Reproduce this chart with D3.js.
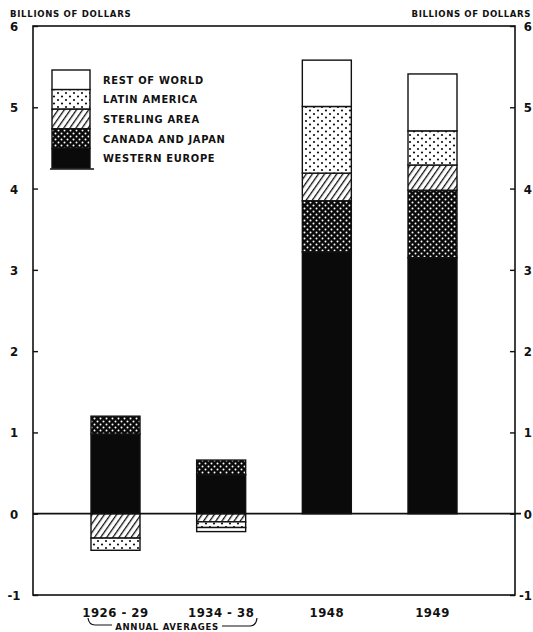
<!DOCTYPE html>
<html>
<head>
<meta charset="utf-8">
<script src="https://cdn.jsdelivr.net/npm/d3@7"></script>
<style>
  body { margin: 0; background: #fff; }
  text { font-family: "DejaVu Sans Condensed", "DejaVu Sans", sans-serif; font-weight: bold; fill: #111; }
</style>
</head>
<body>
<div id="chart"></div>
<script>
// Periods on the x axis
const periods = ["1926-29", "1934-38", "1948", "1949"];
// Regions, bottom to top in the stack
const regions = ["WESTERN EUROPE", "CANADA AND JAPAN", "STERLING AREA", "LATIN AMERICA", "REST OF WORLD"];
// Values in billions of dollars, one per period
const westernEurope = [0.98, 0.48, 3.22, 3.15];
const canadaJapan = [0.22, 0.18, 0.63, 0.83];
const sterlingArea = [-0.30, -0.10, 0.34, 0.31];
const latinAmerica = [-0.15, -0.07, 0.82, 0.42];
const restOfWorld = [0, -0.05, 0.57, 0.70];
const yTicks = [-1, 0, 1, 2, 3, 4, 5, 6];

const w = 533, h = 632;
const plotLeft = 33, plotRight = 515, plotTop = 26, plotBottom = 595;

const svg = d3.select("#chart").append("svg")
  .attr("width", w).attr("height", h)
  .attr("viewBox", [0, 0, w, h]);

// patterns for the fills
const defs = svg.append("defs");
const pCJ = defs.append("pattern").attr("id", "cj").attr("patternUnits", "userSpaceOnUse")
  .attr("width", 6).attr("height", 6);
pCJ.append("rect").attr("width", 6).attr("height", 6).attr("fill", "#0a0a0a");
pCJ.append("circle").attr("cx", 1.5).attr("cy", 1.5).attr("r", 1).attr("fill", "#fff");
pCJ.append("circle").attr("cx", 4.5).attr("cy", 4.5).attr("r", 1).attr("fill", "#fff");

const pSA = defs.append("pattern").attr("id", "sa").attr("patternUnits", "userSpaceOnUse")
  .attr("width", 5).attr("height", 5).attr("patternTransform", "rotate(35)");
pSA.append("rect").attr("width", 5).attr("height", 5).attr("fill", "#fff");
pSA.append("line").attr("x1", 0).attr("y1", 0).attr("x2", 0).attr("y2", 5)
  .attr("stroke", "#111").attr("stroke-width", 2.6);

const pLA = defs.append("pattern").attr("id", "la").attr("patternUnits", "userSpaceOnUse")
  .attr("width", 8).attr("height", 7);
pLA.append("rect").attr("width", 8).attr("height", 7).attr("fill", "#fff");
pLA.append("circle").attr("cx", 2).attr("cy", 2).attr("r", 1.1).attr("fill", "#111");
pLA.append("circle").attr("cx", 6).attr("cy", 5.5).attr("r", 1.1).attr("fill", "#111");

const fills = ["#0a0a0a", "url(#cj)", "url(#sa)", "url(#la)", "#fff"];
const color = d3.scaleOrdinal(regions, fills);

const data = periods.map((p, i) => ({
  period: p,
  "WESTERN EUROPE": westernEurope[i],
  "CANADA AND JAPAN": canadaJapan[i],
  "STERLING AREA": sterlingArea[i],
  "LATIN AMERICA": latinAmerica[i],
  "REST OF WORLD": restOfWorld[i]
}));

const series = d3.stack().keys(regions).offset(d3.stackOffsetDiverging)(data);

const y = d3.scaleLinear([-1, 6], [plotBottom, plotTop]);
const x = d3.scalePoint(periods, [115.5, 432.5]);
const barW = 49;

// frame
svg.append("rect").attr("x", plotLeft).attr("y", plotTop)
  .attr("width", plotRight - plotLeft).attr("height", plotBottom - plotTop)
  .attr("fill", "none").attr("stroke", "#111").attr("stroke-width", 1.6);

// left and right axes
svg.append("g").attr("transform", `translate(${plotLeft},0)`)
  .call(d3.axisRight(y).tickValues(yTicks).tickSize(5).tickFormat(""))
  .call(g => g.select(".domain").remove())
  .call(g => g.selectAll(".tick line").attr("stroke", "#111").attr("stroke-width", 1.4));
svg.append("g").attr("transform", `translate(${plotRight},0)`)
  .call(d3.axisLeft(y).tickValues(yTicks).tickSize(5).tickFormat(""))
  .call(g => g.select(".domain").remove())
  .call(g => g.selectAll(".tick line").attr("stroke", "#111").attr("stroke-width", 1.4));

svg.append("g").selectAll("text").data(yTicks).join("text")
  .attr("x", 14).attr("y", d => y(d) + 5)
  .attr("text-anchor", "middle").attr("font-size", 13)
  .text(d => d);
svg.append("g").selectAll("text").data(yTicks).join("text")
  .attr("x", 532).attr("y", d => y(d) + 5)
  .attr("text-anchor", "end").attr("font-size", 13)
  .text(d => d);

svg.append("text").attr("x", 10).attr("y", 17).attr("font-size", 9.5)
  .attr("letter-spacing", 0.7).text("BILLIONS OF DOLLARS");
svg.append("text").attr("x", 531).attr("y", 17).attr("font-size", 9.5)
  .attr("text-anchor", "end").attr("letter-spacing", 0.6).text("BILLIONS OF DOLLARS");

// bars
svg.append("g").selectAll("g").data(series).join("g")
  .attr("fill", d => color(d.key))
  .selectAll("rect").data(d => d.filter(s => s[1] !== s[0])).join("rect")
  .attr("x", d => x(d.data.period) - barW / 2)
  .attr("y", d => y(Math.max(d[0], d[1])))
  .attr("width", barW)
  .attr("height", d => Math.abs(y(d[0]) - y(d[1])))
  .attr("stroke", "#111").attr("stroke-width", 1.4);

// zero line
svg.append("line").attr("x1", plotLeft).attr("x2", plotRight + 6)
  .attr("y1", y(0)).attr("y2", y(0)).attr("stroke", "#111").attr("stroke-width", 1.8);

// legend
const leg = svg.append("g");
const legX = 52, legTop = 70, rowH = 19.6, legW = 38;
const legRows = regions.slice().reverse();
leg.selectAll("rect").data(legRows).join("rect")
  .attr("x", legX).attr("y", (d, i) => legTop + i * rowH)
  .attr("width", legW).attr("height", rowH)
  .attr("fill", d => color(d)).attr("stroke", "#111").attr("stroke-width", 1.4);
leg.append("line").attr("x1", legX - 2).attr("x2", legX + legW + 4)
  .attr("y1", legTop + 5 * rowH + 1).attr("y2", legTop + 5 * rowH + 1)
  .attr("stroke", "#111").attr("stroke-width", 1.5);
leg.selectAll("text").data(legRows).join("text")
  .attr("x", 103).attr("y", (d, i) => legTop + i * rowH + rowH / 2 + 4)
  .attr("font-size", 11).attr("letter-spacing", 0.7)
  .text(d => d);

// x labels
svg.append("g").selectAll("text").data(periods).join("text")
  .attr("x", d => x(d)).attr("y", 617)
  .attr("text-anchor", "middle").attr("font-size", 13).attr("letter-spacing", 0.5)
  .text(d => d.replace("-", " - "));

// bracket for annual averages
svg.append("path")
  .attr("d", "M88,618 Q89,625 95,625 L112,625 M222,626 L250,626 Q256,626 257,618")
  .attr("fill", "none").attr("stroke", "#111").attr("stroke-width", 1.2);
svg.append("text").attr("x", 167).attr("y", 630).attr("text-anchor", "middle")
  .attr("font-size", 9.5).attr("letter-spacing", 0.7).text("ANNUAL  AVERAGES");
</script>
</body>
</html>
